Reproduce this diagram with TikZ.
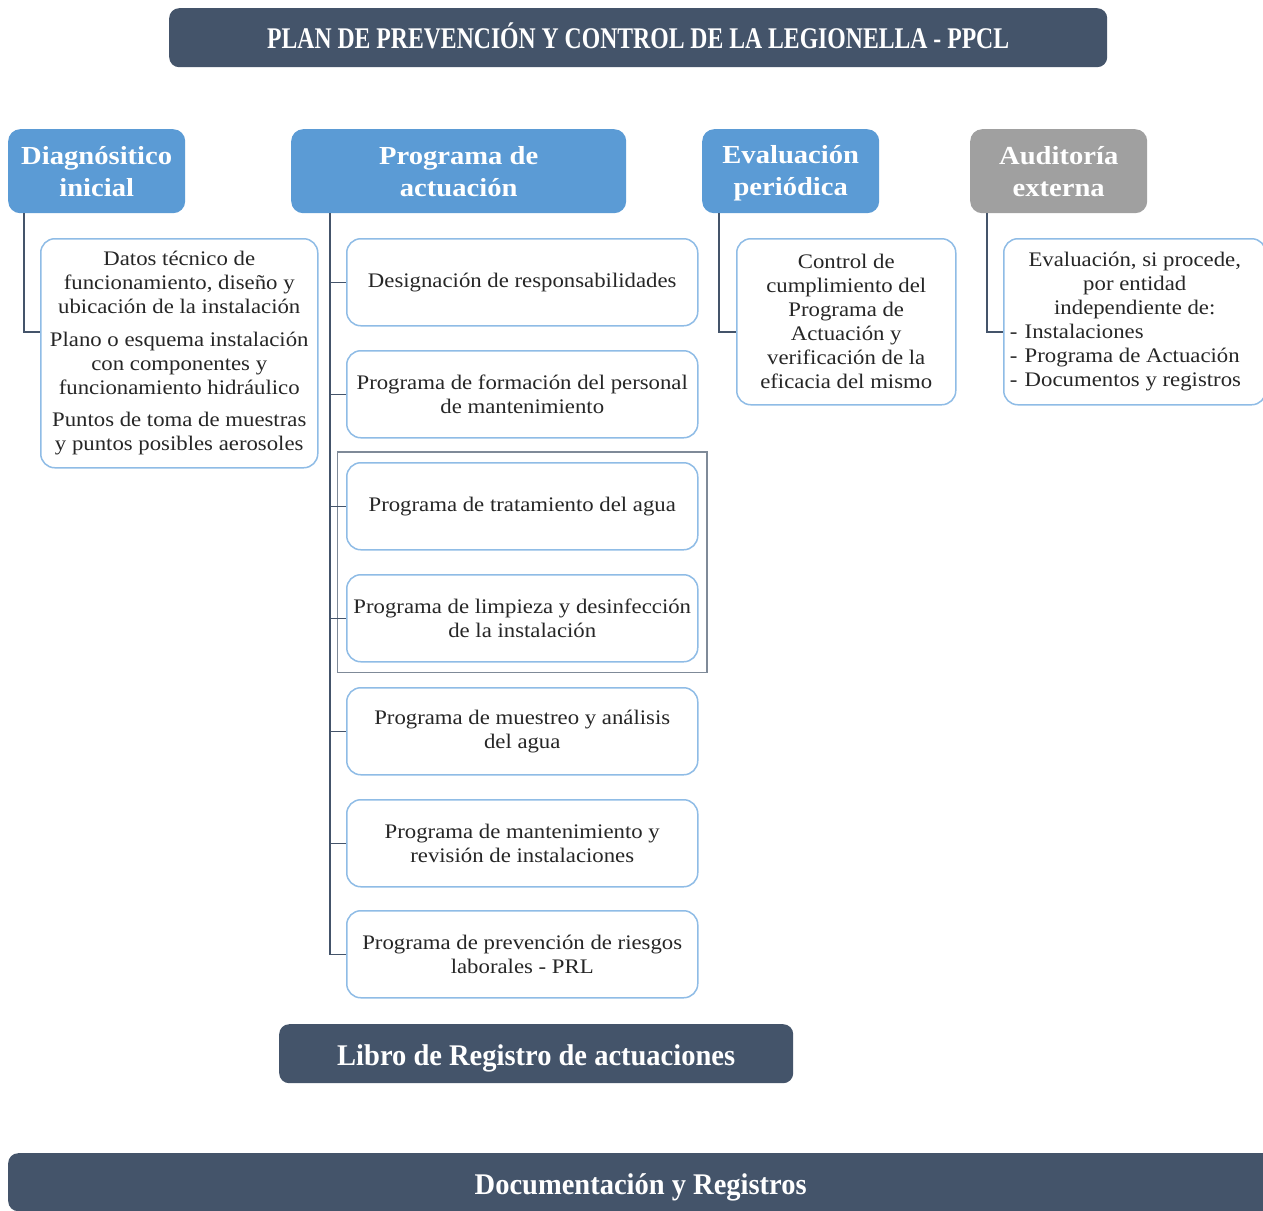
\documentclass[tikz,border=0pt]{standalone}
\usepackage{fontspec}
\setmainfont{Liberation Serif}[FakeStretch=1.1]
\newfontfamily\condA{Liberation Serif}[FakeStretch=0.95]
\newfontfamily\condT{Liberation Serif}[FakeStretch=0.79]
\usetikzlibrary{fit}
\definecolor{darkbox}{HTML}{44546A}
\definecolor{hblue}{HTML}{5B9BD5}
\definecolor{hgray}{HTML}{A0A0A0}
\definecolor{lblue}{HTML}{8FBCE6}
\definecolor{txt}{HTML}{262626}
\definecolor{connc}{HTML}{44546A}
\definecolor{framec}{HTML}{7F8A98}
\tikzset{
  banner/.style={fill=darkbox, rounded corners=10pt, text=white, font=\condA\fontsize{30}{34}\selectfont\bfseries, inner sep=0pt, anchor=north west, text height=24pt, text depth=0pt},
  head/.style={fill=hblue, rounded corners=12pt, inner sep=0pt, anchor=north west},
  headtext/.style={text=white, font=\fontsize{26}{32}\selectfont\bfseries, align=center, inner sep=0pt},
  itembox/.style={draw=lblue, line width=1.5pt, fill=white, rounded corners=14pt, text=txt, font=\fontsize{20.7}{24}\selectfont, align=center, inner sep=0pt, anchor=north west},
  conn/.style={draw=connc, line width=1.5pt},
}
\newcommand{\lstitem}[1]{\makebox[250pt][l]{\makebox[15pt][l]{-}#1}}
\begin{document}
\begin{tikzpicture}[x=1pt,y=-1pt]
\useasboundingbox[fill=white] (0,0) rectangle (1263,1210);
% title
\node[banner, minimum width=938, minimum height=59, font=\condT\fontsize{30}{34}\selectfont\bfseries, text height=21pt] (title) at (169,8) {PLAN DE PREVENCIÓN Y CONTROL DE LA LEGIONELLA - PPCL};
% headers
\node[head, minimum width=177, minimum height=84] (d) at (8,129) {};
\node[head, minimum width=335, minimum height=84] (p) at (291,129) {};
\node[head, minimum width=177, minimum height=84] (e) at (702,129) {};
\node[head, fill=hgray, minimum width=177, minimum height=84] (a) at (970,129) {};
\node[headtext] (dt) at (d.center) {Diagnósitico\\inicial};
\node[headtext] (pt) at (p.center) {Programa de\\actuación};
\node[headtext] (et) at ([yshift=-2pt]e.center) {Evaluación\\periódica};
\node[headtext] (at) at (a.center) {Auditoría\\externa};
% diagnostic box
\node[itembox, minimum width=277, minimum height=229] (dl) at (40,238) {Datos técnico de\\funcionamiento, diseño y\\ubicación de la instalación\\[9pt]Plano o esquema instalación\\con componentes y\\funcionamiento hidráulico\\[8pt]Puntos de toma de muestras\\y puntos posibles aerosoles};
% programa boxes
\node[itembox, minimum width=351, minimum height=87] (b1) at (346,238) {Designación de responsabilidades};
\node[itembox, minimum width=351, minimum height=87] (b2) at (346,350) {Programa de formación del personal\\de mantenimiento};
\node[itembox, minimum width=351, minimum height=87] (b3) at (346,462) {Programa de tratamiento del agua};
\node[itembox, minimum width=351, minimum height=87] (b4) at (346,574) {Programa de limpieza y desinfección\\de la instalación};
\node[itembox, minimum width=351, minimum height=87] (b5) at (346,687) {Programa de muestreo y análisis\\del agua};
\node[itembox, minimum width=351, minimum height=87] (b6) at (346,799) {Programa de mantenimiento y\\revisión de instalaciones};
\node[itembox, minimum width=351, minimum height=87] (b7) at (346,910) {Programa de prevención de riesgos\\laborales - PRL};
\node[draw=framec, line width=1.5pt, inner xsep=8.5pt, inner ysep=10pt, fit=(b3)(b4)] (fr) {};
% evaluacion box
\node[itembox, minimum width=219, minimum height=166] (el) at (736,238) {Control de\\cumplimiento del\\Programa de\\Actuación y\\verificación de la\\eficacia del mismo};
% auditoria box
\node[itembox, minimum width=262, minimum height=166] (al) at (1003,238) {Evaluación, si procede,\\por entidad\\independiente de:\\\lstitem{Instalaciones}\\\lstitem{Programa de Actuación}\\\lstitem{Documentos y registros}};
% bottom banners
\node[banner, minimum width=514, minimum height=59] (lib) at (279,1024) {Libro de Registro de actuaciones};
\node[banner, minimum width=1265, minimum height=58] (doc) at (8,1153) {Documentación y Registros};
% connectors
\coordinate (dv) at ([xshift=16pt]d.south west);
\coordinate (pv) at ([xshift=39pt]p.south west);
\coordinate (ev) at ([xshift=17pt]e.south west);
\coordinate (av) at ([xshift=17pt]a.south west);
\draw[conn] (dv) |- (dl.west |- 0,332);
\draw[conn] (ev) |- (el.west |- 0,332);
\draw[conn] (av) |- (al.west |- 0,332);
\draw[conn] (pv) |- (b7.west);
\foreach \b in {b1,b2,b3,b4,b5,b6}{\draw[conn] (pv |- \b.west) -- (\b.west);}
\end{tikzpicture}
\end{document}
